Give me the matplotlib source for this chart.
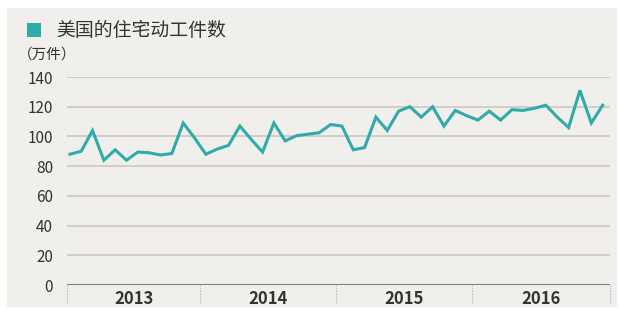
import matplotlib
matplotlib.use("Agg")
import matplotlib.pyplot as plt
from matplotlib.patches import Rectangle

plt.rcParams['font.family'] = ['Noto Sans CJK SC', 'DejaVu Sans']

years = ["2013", "2014", "2015", "2016"]
starts_2013 = [88, 90, 104, 84, 91, 84, 89.5, 89, 87.5, 88.5, 109, 99]
starts_2014 = [88, 91.5, 94, 107, 98, 89.5, 109, 97, 100.5, 101.5, 102.5, 108]
starts_2015 = [107, 91, 92.5, 113, 104, 117, 120, 113, 120, 107, 117.5, 114]
starts_2016 = [111, 117, 111, 118, 117.5, 119, 121, 113, 106, 131, 109, 121]
yticks = [0, 20, 40, 60, 80, 100, 120, 140]

starts = starts_2013 + starts_2014 + starts_2015 + starts_2016
months = list(range(len(starts)))

teal = "#30abab"
bg = "#f1efeb"

fig = plt.figure(figsize=(6.2, 3.09), dpi=100, facecolor="white")
fig.patches.append(Rectangle((7 / 620, 2 / 309), 610 / 620, 299 / 309,
                             transform=fig.transFigure, facecolor=bg,
                             edgecolor="none", zorder=-10))

ax = fig.add_axes([67 / 620, 24 / 309, 543 / 620, 208 / 309])
ax.set_facecolor("none")
ax.plot(months, starts, color=teal, lw=2.2, solid_joinstyle="miter", zorder=3)

ax.set_xlim(-0.25, 47.65)
ax.set_ylim(0, 140)
ax.set_yticks(yticks)
ax.set_yticklabels([str(v) for v in yticks], fontsize=11, color="#333333")
ax.tick_params(axis="y", length=0, pad=10)
ax.set_xticks([])
for v in yticks[1:]:
    ax.axhline(v, color="#cbc8c3", lw=1.2, zorder=1)
ax.axhline(0, color="#7d7d7d", lw=2.2, zorder=2)
for s in ax.spines.values():
    s.set_visible(False)

# year separators and labels under the axis
bounds = [-0.25, 11.5, 23.5, 35.5, 47.65]
for b in bounds:
    ax.plot([b, b], [0, -13], color="#aaaaaa", lw=0.8, ls=(0, (1, 1.5)),
            clip_on=False)
for i, yr in enumerate(years):
    ax.text((bounds[i] + bounds[i + 1]) / 2, -9.5, yr, ha="center", va="center",
            fontsize=12, fontweight="bold", color="#333333")

fig.patches.append(Rectangle((27 / 620, 1 - 37 / 309), 14 / 620, 14 / 309,
                             transform=fig.transFigure, facecolor=teal,
                             edgecolor="none"))
fig.text(56 / 620, 1 - 30 / 309, "美国的住宅动工件数", fontsize=13.6, color="#333333",
         va="center", ha="left")
fig.text(18 / 620, 1 - 55 / 309, "（万件）", fontsize=10.5, color="#333333",
         va="center", ha="left")

fig.savefig("out.png", dpi=100, facecolor="white")
